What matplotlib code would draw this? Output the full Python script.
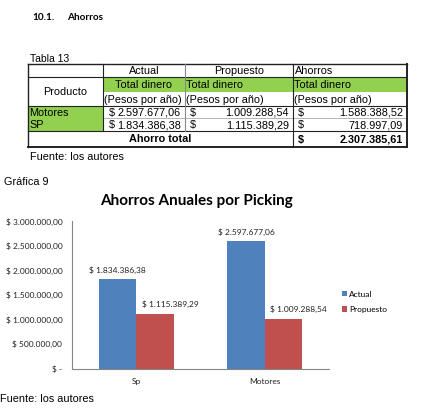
import matplotlib
matplotlib.use("Agg")
import matplotlib.pyplot as plt
from matplotlib.patches import Rectangle
from matplotlib.ticker import FuncFormatter

# ---------------- data ----------------
categories = ["Sp", "Motores"]
actual = [1834386.38, 2597677.06]
propuesto = [1115389.29, 1009288.54]
series_names = ["Actual", "Propuesto"]
yticks = [0, 500000, 1000000, 1500000, 2000000, 2500000, 3000000]

table_products = ["Motores", "SP"]
table_actual = ["2.597.677,06", "1.834.386,38"]
table_prop = ["1.009.288,54", "1.115.389,29"]
table_ahorro = ["1.588.388,52", "718.997,09"]
ahorro_total = "2.307.385,61"

BLUE = "#4F81BD"
RED = "#C0504D"
GREEN = "#92D050"

W, H = 427, 412
fig = plt.figure(figsize=(W / 100, H / 100), dpi=100)
fig.patch.set_facecolor("white")

# page-level axes in pixel coords
pg = fig.add_axes([0, 0, 1, 1])
pg.set_xlim(0, W)
pg.set_ylim(H, 0)
pg.axis("off")

ARIAL = "Liberation Sans"
CAL = "Lato"

pg.text(32, 17, "10.1.", fontsize=7.2, fontweight="bold", family=CAL, va="center")
pg.text(67, 17, "Ahorros", fontsize=7.2, fontweight="bold", family=CAL, va="center")
pg.text(30, 59, "Tabla 13", fontsize=7.5, family=ARIAL, va="center")

# table geometry
xs = [28, 103, 185, 293, 407]
ys = [64, 77, 92, 106, 118, 131, 147]
fs = 7.8

# fills
pg.add_patch(Rectangle((xs[1], ys[1]), xs[4] - xs[1], ys[2] - ys[1], fc=GREEN, ec="none"))
pg.add_patch(Rectangle((xs[0], ys[3]), xs[1] - xs[0], ys[5] - ys[3], fc=GREEN, ec="none"))

lc = "#222222"
lw = 0.8
# horizontal lines
pg.plot([xs[0], xs[4]], [ys[0], ys[0]], color=lc, lw=1.0)
pg.plot([xs[0], xs[4]], [ys[1], ys[1]], color=lc, lw=lw)
pg.plot([xs[0], xs[4]], [ys[3], ys[3]], color=lc, lw=lw)
pg.plot([xs[1], xs[4]], [ys[4], ys[4]], color="#999999", lw=0.5)
pg.plot([xs[0], xs[4]], [ys[5], ys[5]], color=lc, lw=lw)
pg.plot([xs[0], xs[4]], [ys[6], ys[6]], color=lc, lw=1.4)
# vertical lines
pg.plot([xs[0], xs[0]], [ys[0], ys[6]], color=lc, lw=1.0)
pg.plot([xs[4], xs[4]], [ys[0], ys[6]], color=lc, lw=1.4)
pg.plot([xs[1], xs[1]], [ys[0], ys[5]], color=lc, lw=lw)
pg.plot([xs[2], xs[2]], [ys[0], ys[5]], color="#888888", lw=lw)
pg.plot([xs[3], xs[3]], [ys[0], ys[6]], color=lc, lw=lw)


def cy(i):
    return (ys[i] + ys[i + 1]) / 2 + 0.5


pg.text((xs[1] + xs[2]) / 2, cy(0), "Actual", fontsize=fs, family=ARIAL, ha="center", va="center")
pg.text((xs[2] + xs[3]) / 2, cy(0), "Propuesto", fontsize=fs, family=ARIAL, ha="center", va="center")
pg.text(xs[3] + 1.5, cy(0), "Ahorros", fontsize=fs, family=ARIAL, ha="left", va="center")
pg.text((xs[0] + xs[1]) / 2, (ys[1] + ys[3]) / 2, "Producto", fontsize=fs, family=ARIAL, ha="center", va="center")
pg.text((xs[1] + xs[2]) / 2, cy(1), "Total dinero", fontsize=fs, family=ARIAL, ha="center", va="center")
pg.text(xs[2] + 1.5, cy(1), "Total dinero", fontsize=fs, family=ARIAL, ha="left", va="center")
pg.text(xs[3] + 1.5, cy(1), "Total dinero", fontsize=fs, family=ARIAL, ha="left", va="center")
for x0 in xs[1:4]:
    pg.text(x0 + 1.5, cy(2), "(Pesos por año)", fontsize=fs, family=ARIAL, ha="left", va="center")
for r, (p, a, pr, ah) in enumerate(zip(table_products, table_actual, table_prop, table_ahorro)):
    yy = cy(3 + r)
    pg.text(xs[0] + 1, yy, p, fontsize=fs, family=ARIAL, ha="left", va="center")
    pg.text(xs[1] + 6, yy, "$", fontsize=fs, family=ARIAL, ha="left", va="center")
    pg.text(xs[2] - 4, yy, a, fontsize=fs, family=ARIAL, ha="right", va="center")
    pg.text(xs[2] + 5, yy, "$", fontsize=fs, family=ARIAL, ha="left", va="center")
    pg.text(xs[3] - 4, yy, pr, fontsize=fs, family=ARIAL, ha="right", va="center")
    pg.text(xs[3] + 5, yy, "$", fontsize=fs, family=ARIAL, ha="left", va="center")
    pg.text(xs[4] - 4, yy, ah, fontsize=fs, family=ARIAL, ha="right", va="center")
pg.text((xs[0] + xs[3]) / 2, cy(5), "Ahorro total", fontsize=fs, family=ARIAL, fontweight="bold", ha="center", va="center")
pg.text(xs[3] + 5, cy(5), "$", fontsize=fs, family=ARIAL, fontweight="bold", ha="left", va="center")
pg.text(xs[4] - 4, cy(5), ahorro_total, fontsize=fs, family=ARIAL, fontweight="bold", ha="right", va="center")

pg.text(30, 157, "Fuente: los autores", fontsize=fs, family=ARIAL, va="center")
pg.text(4, 182, "Gráfica 9", fontsize=fs, family=ARIAL, va="center")
pg.text(196, 201, "Ahorros Anuales por Picking", fontsize=11, family=CAL, fontweight="bold", ha="center", va="center")
pg.text(0, 399, "Fuente: los autores", fontsize=fs, family=ARIAL, va="center")

# ---------------- chart ----------------
left, right = 72, 329
top, bottom = 221.5, 368.5
ax = fig.add_axes([left / W, 1 - bottom / H, (right - left) / W, (bottom - top) / H])
ax.set_zorder(2)
ax.patch.set_alpha(0)

bw = 0.29
xpos = list(range(len(categories)))
b1 = ax.bar([x - bw / 2 for x in xpos], actual, width=bw, color=BLUE, label=series_names[0])
b2 = ax.bar([x + bw / 2 for x in xpos], propuesto, width=bw, color=RED, label=series_names[1])
ax.set_xlim(-0.5, 1.5)
ax.set_ylim(0, 3000000)
ax.set_yticks(yticks)


def money(v, pos=None):
    if v == 0:
        return "$ -"
    s = f"{v:,.2f}".replace(",", "X").replace(".", ",").replace("X", ".")
    return "$ " + s


ax.yaxis.set_major_formatter(FuncFormatter(money))
ax.set_xticks(xpos)
ax.set_xticklabels(categories)
for s in ["top", "right"]:
    ax.spines[s].set_visible(False)
ax.spines["left"].set_color("#868686")
ax.spines["bottom"].set_color("#868686")
ax.tick_params(axis="both", length=0, labelsize=6, pad=7, labelcolor="#222222")
for t in ax.get_yticklabels() + ax.get_xticklabels():
    t.set_family(CAL)

for rect, v in zip(b1, actual):
    ax.annotate(money(v), (rect.get_x() + rect.get_width() / 2, v), xytext=(0, 3.5),
                textcoords="offset points", ha="center", va="bottom", fontsize=6, family=CAL, color="#222222")
for rect, v in zip(b2, propuesto):
    ax.annotate(money(v), (rect.get_x() + rect.get_width() / 2, v), xytext=(11, 4),
                textcoords="offset points", ha="center", va="bottom", fontsize=6, family=CAL, color="#222222")

ax.legend(loc="upper left", bbox_to_anchor=(1.02, 0.58), frameon=False,
          handlelength=0.6, handleheight=0.6, handletextpad=0.3, labelspacing=1.0,
          prop={"family": CAL, "size": 6})

fig.savefig("out.png", dpi=100, facecolor="white")
